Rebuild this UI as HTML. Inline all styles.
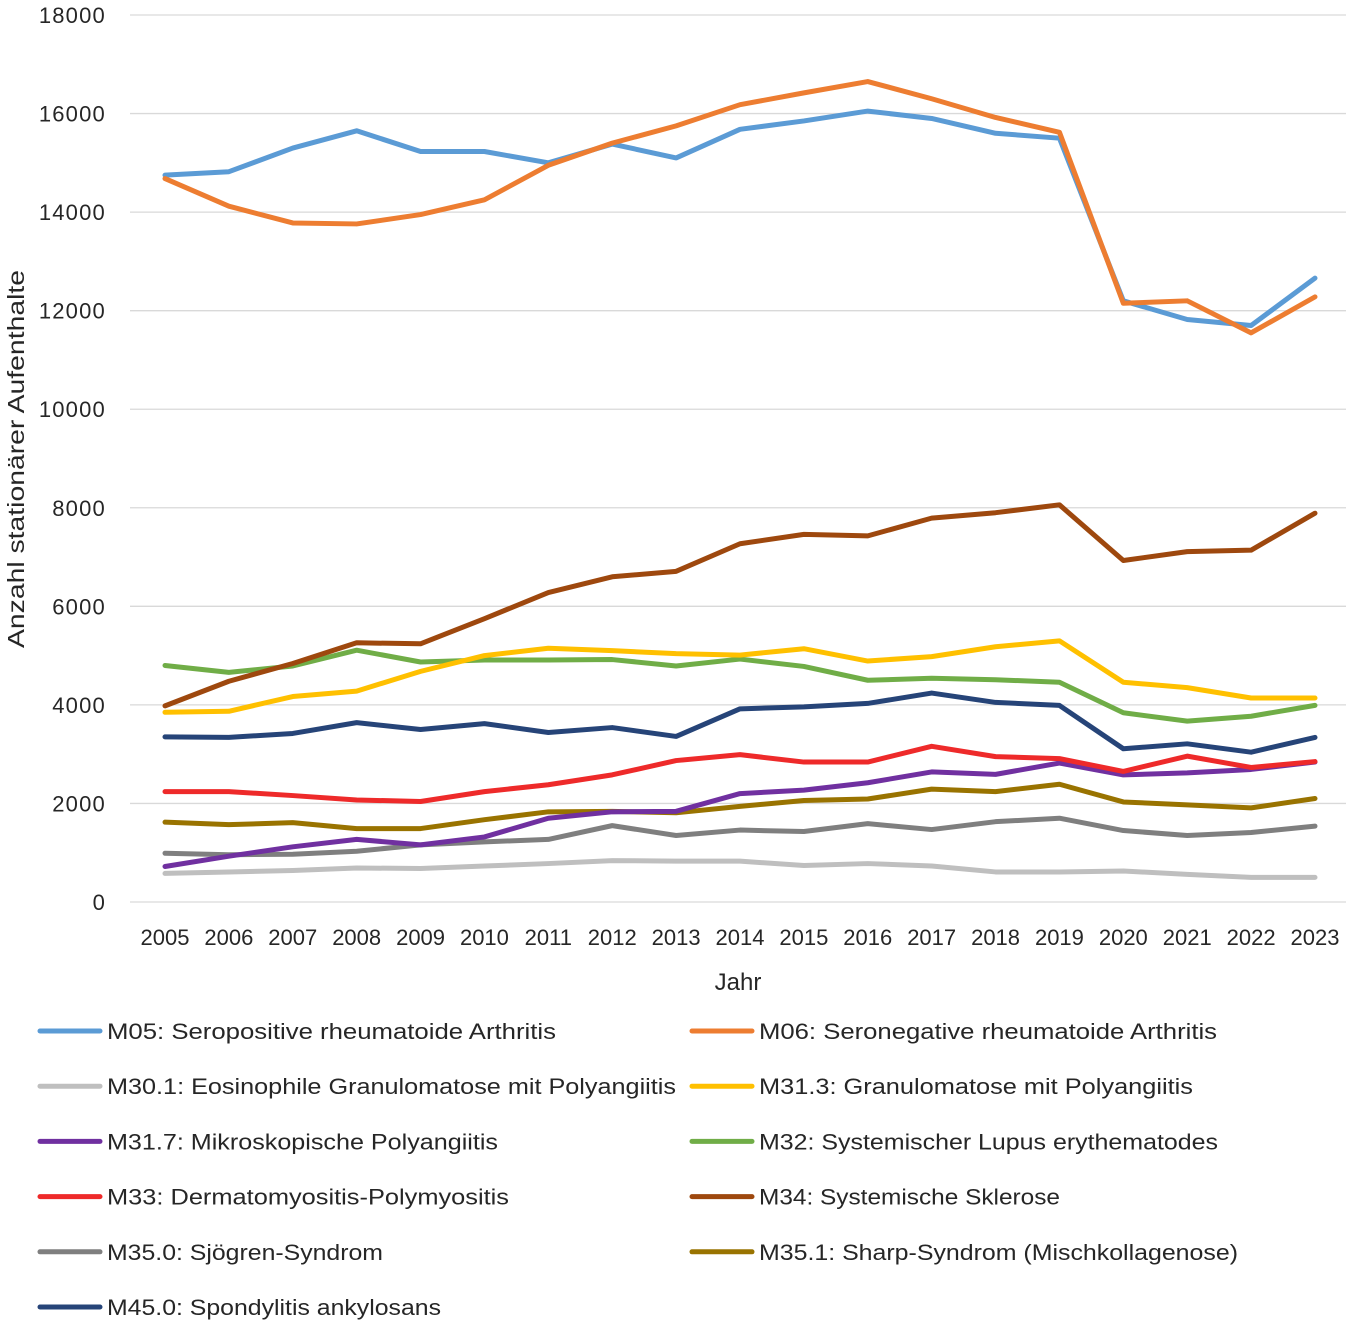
<!DOCTYPE html>
<html><head><meta charset="utf-8"><style>
body{margin:0;background:#fff;font-family:"Liberation Sans",sans-serif}
svg{display:block}
text{font-family:"Liberation Sans",sans-serif;fill:#262626}
</style></head><body>
<svg id="c" width="1346" height="1325" xmlns="http://www.w3.org/2000/svg"></svg>
<script>
const years=[2005,2006,2007,2008,2009,2010,2011,2012,2013,2014,2015,2016,2017,2018,2019,2020,2021,2022,2023];
const yTicks=[0,2000,4000,6000,8000,10000,12000,14000,16000,18000];
const seriesNames=["M05: Seropositive rheumatoide Arthritis","M06: Seronegative rheumatoide Arthritis","M30.1: Eosinophile Granulomatose mit Polyangiitis","M31.3: Granulomatose mit Polyangiitis","M31.7: Mikroskopische Polyangiitis","M32: Systemischer Lupus erythematodes","M33: Dermatomyositis-Polymyositis","M34: Systemische Sklerose","M35.0: Sjögren-Syndrom","M35.1: Sharp-Syndrom (Mischkollagenose)","M45.0: Spondylitis ankylosans"];
const seriesColors=["#5B9BD5","#ED7D31","#BFBFBF","#FFC000","#7030A0","#70AD47","#EE2A2A","#9E480E","#7F7F7F","#997300","#264478"];
const m05=[14750,14820,15300,15650,15230,15230,15000,15380,15100,15680,15850,16050,15900,15600,15500,12200,11820,11700,12660];
const m06=[14680,14120,13780,13760,13950,14250,14950,15400,15750,16180,16420,16650,16300,15920,15620,12150,12200,11550,12280];
const m301=[580,610,640,690,680,730,780,840,830,830,740,780,730,610,610,630,560,500,500];
const m313=[3850,3870,4170,4280,4680,5000,5150,5100,5040,5010,5140,4890,4980,5180,5300,4460,4350,4140,4140];
const m317=[720,930,1120,1270,1160,1320,1700,1830,1840,2200,2270,2420,2640,2590,2820,2580,2620,2690,2840];
const m32=[4800,4660,4790,5110,4870,4910,4910,4920,4790,4930,4780,4500,4540,4510,4460,3840,3670,3770,3990];
const m33=[2240,2240,2160,2070,2040,2240,2380,2580,2870,2990,2840,2840,3160,2950,2910,2650,2960,2730,2850];
const m34=[3980,4480,4840,5260,5240,5750,6280,6600,6710,7270,7460,7430,7790,7900,8060,6930,7110,7140,7890];
const m350=[990,960,970,1030,1160,1220,1270,1550,1350,1460,1430,1590,1470,1630,1700,1450,1350,1410,1540];
const m351=[1620,1570,1610,1490,1490,1670,1830,1840,1810,1940,2060,2090,2290,2240,2390,2030,1970,1910,2100];
const m450=[3350,3340,3420,3640,3500,3620,3440,3540,3360,3920,3960,4030,4240,4050,3990,3110,3210,3040,3340];
const seriesData=[m05,m06,m301,m313,m317,m32,m33,m34,m350,m351,m450];
const drawOrder=[2,8,9,4,6,10,5,3,7,0,1];
const legendTextEnd=[556,1217,676,1193,498,1218,509,1060,383,1238,441];

const svg=document.getElementById('c');const NS="http://www.w3.org/2000/svg";
const X0=165,X1=1315,Y0=902,Y1=15;
const xs=i=>X0+(X1-X0)*i/(years.length-1);
const ys=v=>Y0-(Y0-Y1)*v/18000;
function mk(t,a,txt){const e=document.createElementNS(NS,t);for(const k in a)e.setAttribute(k,a[k]);if(txt!=null)e.textContent=txt;svg.appendChild(e);return e;}
yTicks.forEach(v=>{
 const g=mk('line',{x1:130,x2:1346,y1:ys(v),y2:ys(v),stroke:'#d9d9d9','stroke-width':1.3});
 
 
 const t=mk('text',{x:106,y:ys(v)+8,'text-anchor':'end','font-size':22,'letter-spacing':'1.2'},v);
 
 
});
years.forEach((y,i)=>{
 const t=mk('text',{x:xs(i),y:945,'text-anchor':'middle','font-size':22},y);
 
 
});
const xt=mk('text',{x:738,y:990,'text-anchor':'middle','font-size':24},'Jahr');


const yt=mk('text',{x:-459,y:24,'text-anchor':'middle','font-size':23,textLength:378,lengthAdjust:'spacingAndGlyphs',transform:'rotate(-90)'},'Anzahl stationärer Aufenthalte');


drawOrder.forEach(s=>{
 const p=mk('polyline',{points:seriesData[s].map((v,i)=>xs(i)+','+ys(v)).join(' '),fill:'none',stroke:seriesColors[s],'stroke-width':5,'stroke-linejoin':'round','stroke-linecap':'round'});
 
 
});
seriesNames.forEach((n,s)=>{
 const col=s%2,row=Math.floor(s/2);
 const lx=col?692:40,ly=1031+row*55.2;
 const l=mk('line',{x1:lx,x2:lx+60,y1:ly,y2:ly,stroke:seriesColors[s],'stroke-width':5,'stroke-linecap':'round'});
 
 
 const t=mk('text',{x:lx+67,y:ly+8,'font-size':22,textLength:legendTextEnd[s]-lx-67,lengthAdjust:'spacingAndGlyphs'},n);
 
 
});
</script>
</body></html>
